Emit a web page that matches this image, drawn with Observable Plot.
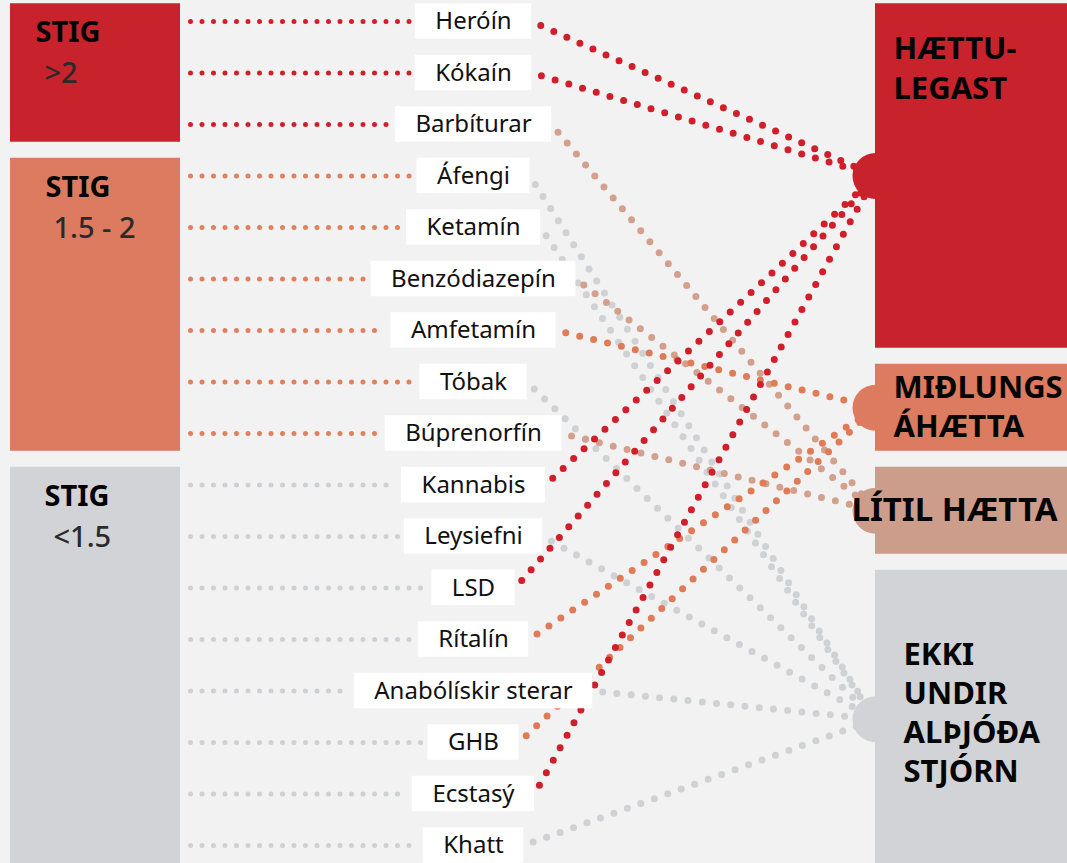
<!DOCTYPE html>
<html><head><meta charset="utf-8">
<script src="https://cdn.jsdelivr.net/npm/d3@7"></script>
<script src="https://cdn.jsdelivr.net/npm/@observablehq/plot@0.6"></script>
<style>
html,body{margin:0;padding:0;background:#f2f2f2;overflow:hidden;}
#chart svg{display:block;}
</style></head><body><div id="chart"></div>
<script>
// ---- data ----
const drugs = ["Heróín","Kókaín","Barbíturar","Áfengi","Ketamín","Benzódiazepín","Amfetamín","Tóbak","Búprenorfín","Kannabis","Leysiefni","LSD","Rítalín","Anabólískir sterar","GHB","Ecstasý","Khatt"];
// harm score group (index into scoreGroupLabels)
const drugScoreGroup = [0,0,0,1,1,1,1,1,1,2,2,2,2,2,2,2,2];
// international control category (index into controlLabels)
const drugControl = [0,0,2,3,3,2,1,3,2,0,3,0,1,3,1,0,3];
const scoreGroupTitle = "STIG";
const scoreGroupLabels = [">2","1.5 - 2","<1.5"];
const controlLabels = ["HÆTTU-\nLEGAST","MIÐLUNGS\nÁHÆTTA","LÍTIL HÆTTA","EKKI\nUNDIR\nALÞJÓÐA\nSTJÓRN"];

// ---- styles ----
const groupFill = ["#c8232c","#dc7b5f","#d2d3d6"];
const groupDot = ["#d01f2a","#e0805d","#cfd0d3"];
const controlFill = ["#c8232c","#dc7b5f","#cd9d8c","#d2d3d6"];
const controlDot = ["#d01f2a","#e07b57","#d3a08d","#d0d1d4"];

// ---- layout ----
const W = 1067, H = 863;
const layout = {
  leftBox: [10, 180], leaderStart: 190, labelCenter: 473, labelPad: 20, labelFont: 24,
  rightBoxX: [875, 1100], circleR: 23,
  controlSpans: [[-0.5,6.5],[6.5,8.5],[8.5,10.5],[10.5,16.6]],
  groupTextX: [[35,44],[45,53],[44,53]],
  controlText: [
    {x:893, anchor:"top", dy:36, lh:1.26, at:"y1", fs:31},
    {x:893, anchor:"middle", dy:-3, lh:1.26, at:"cy", fs:31},
    {x:851, anchor:"middle", dy:-3, lh:1.26, at:"cy", fs:33},
    {x:903, anchor:"middle", dy:-8, lh:1.26, at:"cy", fs:31}
  ]
};
const FONT = "'Noto Sans', sans-serif";
const yOpts = {type:"linear", domain:[0,16], range:[21,845]};
const ys = Plot.scale({y: yOpts});

const ctx = document.createElement("canvas").getContext("2d");
ctx.font = `${layout.labelFont}px "Noto Sans"`;

const rows = drugs.map((name,i)=>{
  const w = ctx.measureText(name).width;
  return {name, i, group: drugScoreGroup[i], control: drugControl[i],
    xl: layout.labelCenter - w/2 - layout.labelPad,
    xr: layout.labelCenter + w/2 + layout.labelPad};
});

const groups = scoreGroupLabels.map((lab,g)=>{
  const idx = rows.filter(r=>r.group===g).map(r=>r.i);
  return {g, lab, y1: d3.min(idx)-0.5, y2: d3.max(idx)+0.5 + (g===2 ? 0.2 : 0)};
});

const ctrl = controlLabels.map((lab,c)=>{
  const s = layout.controlSpans[c];
  return {c, lab, y1: s[0], y2: s[1], cy: (s[0]+s[1])/2};
});

const conns = rows.map(r=>{
  const cy = ctrl[r.control].cy;
  const px0 = r.xr, py0 = ys.apply(r.i), px1 = layout.rightBoxX[0], py1 = ys.apply(cy);
  const L = Math.hypot(px1-px0, py1-py0), g = 10;
  return {...r, x1: px0 + (px1-px0)*g/L, y1: ys.invert(py0 + (py1-py0)*g/L), x2: px1, y2: cy};
}).sort((a,b)=>b.control-a.control);

const chart = Plot.plot({
  width: W, height: H, margin: 0,
  x: {domain:[0,W], range:[0,W], axis:null},
  y: {...yOpts, axis:null},
  color: {type:"identity"},
  style: {background:"#f2f2f2", fontFamily: FONT, overflow:"hidden"},
  marks: [
    Plot.rect(groups, {x1: layout.leftBox[0], x2: layout.leftBox[1], y1:"y1", y2:"y2", insetTop:8, insetBottom:8, fill: d=>groupFill[d.g]}),
    Plot.text(groups, {x: d=>layout.groupTextX[d.g][0], y:"y1", text: ()=>scoreGroupTitle, dy:37, textAnchor:"start", lineAnchor:"middle", fontSize:29, fontWeight:"bold", fill:"#050505", fontFamily: FONT}),
    Plot.text(groups, {x: d=>layout.groupTextX[d.g][1], y:"y1", text:"lab", dy:78, textAnchor:"start", lineAnchor:"middle", fontSize:29, fontWeight:500, fill:"#2a2a2a", fontFamily: FONT}),
    Plot.link(rows, {x1: layout.leaderStart, x2: d=>d.xl-6, y1:"i", y2:"i", stroke: d=>groupDot[d.group], strokeWidth:5, strokeDasharray:"0 11.5", strokeLinecap:"round"}),
    Plot.link(conns, {x1:"x1", y1:"y1", x2:"x2", y2:"y2", stroke: d=>controlDot[d.control], strokeWidth:7, strokeDasharray:"0 14.3", strokeLinecap:"round"}),
    Plot.rect(rows, {x1:"xl", x2:"xr", y1: d=>d.i-0.5, y2: d=>d.i+0.5, insetTop:8, insetBottom:8, fill:"white"}),
    Plot.text(rows, {x: layout.labelCenter, y:"i", text:"name", fontSize: layout.labelFont, fill:"#111", textAnchor:"middle", fontFamily: FONT}),
    Plot.dot(ctrl, {x: layout.rightBoxX[0], y:"cy", r: layout.circleR, fill: d=>controlFill[d.c]}),
    Plot.rect(ctrl, {x1: layout.rightBoxX[0], x2: layout.rightBoxX[1], y1:"y1", y2:"y2", insetTop:8, insetBottom:8, fill: d=>controlFill[d.c]}),
    ...ctrl.map((d,c)=>{
      const t = layout.controlText[c];
      return Plot.text([d], {x: t.x, y: t.at, text:"lab", dy: t.dy, lineAnchor: t.anchor, lineHeight: t.lh, textAnchor:"start", fontSize: t.fs, fontWeight:"bold", fill:"#050505", fontFamily: FONT});
    })
  ]
});
document.getElementById("chart").appendChild(chart);
</script>
</body></html>
